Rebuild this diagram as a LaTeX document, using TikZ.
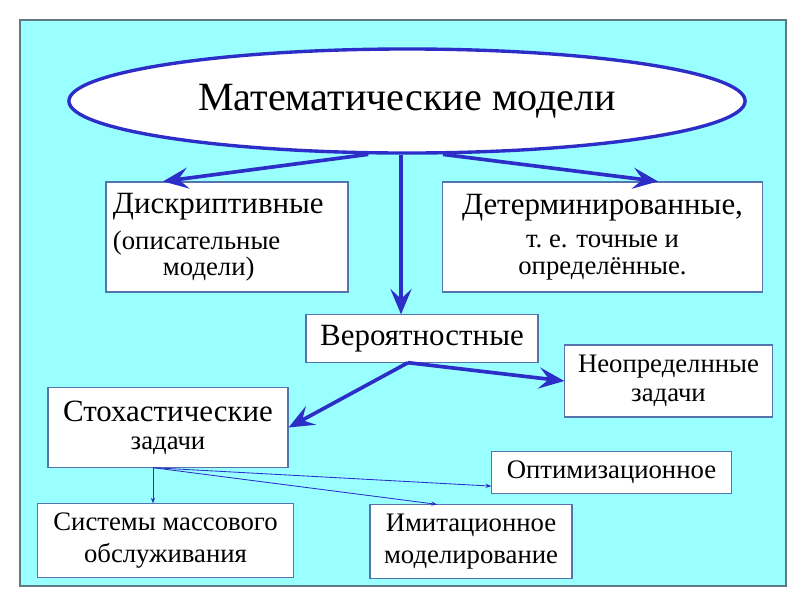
\documentclass[tikz,border=0pt]{standalone}
\usepackage{fontspec}
\setmainfont{Liberation Serif}
\usetikzlibrary{arrows.meta,shapes.geometric}
\definecolor{bgcyan}{RGB}{153,255,255}
\definecolor{framegray}{RGB}{95,120,130}
\definecolor{boxedge}{RGB}{85,115,175}
\definecolor{arrowblue}{RGB}{45,45,200}

\tikzset{
  box/.style={draw=boxedge,fill=white,line width=0.8pt,inner sep=0pt,align=center},
  bigarrow/.style={arrowblue,line width=2.6pt,-{Stealth[length=18pt,width=15pt,inset=7pt]}},
  thinarrow/.style={arrowblue,line width=0.6pt,-{Stealth[length=4pt,width=3pt]}}
}

\begin{document}
\begin{tikzpicture}[x=0.025cm,y=-0.025cm]
  \useasboundingbox (0,0) rectangle (800,600);
  \filldraw[fill=bgcyan,draw=framegray,line width=0.8pt] (20,20) rectangle (786,586);

  % top ellipse
  \node[ellipse,draw=arrowblue,line width=2.4pt,fill=white,minimum width=16.9cm,
    minimum height=2.6cm,font=\fontsize{28.5}{31}\selectfont] (mm) at (407,101)
    {Математические модели};

  % boxes
  \node[box,inner xsep=0.175cm,text width=5.7cm,minimum height=2.75cm,align=left,
    font=\fontsize{19}{18.5}\selectfont] (dis) at (227,237)
    {{\fontsize{22}{24}\selectfont Дискриптивные}\\[7pt](описательные\\
     \hspace*{1.25cm}модели)};
  \node[box,minimum width=7.98cm,minimum height=2.75cm,
    font=\fontsize{19}{19}\selectfont] (det) at (602.5,237)
    {{\fontsize{22}{24}\selectfont Детерминированные,}\\[5pt]т.~е. точные и\\
     определённые.};
  \node[box,minimum width=5.8cm,minimum height=1.18cm,
    font=\fontsize{22}{24}\selectfont] (ver) at (422,338.5) {Вероятностные};
  \node[box,minimum width=5.18cm,minimum height=1.8cm,
    font=\fontsize{19}{21}\selectfont] (neo) at (668.5,381)
    {Неопределнные\\задачи};
  \node[box,minimum width=6cm,minimum height=1.98cm,
    font=\fontsize{19}{20}\selectfont] (sto) at (168,427.5)
    {{\fontsize{22}{24}\selectfont Стохастические}\\задачи};
  \node[box,minimum width=5.98cm,minimum height=1.03cm,
    font=\fontsize{19}{21}\selectfont] (opt) at (611.5,472.5) {Оптимизационное};
  \node[box,minimum width=6.38cm,minimum height=1.83cm,
    font=\fontsize{19}{22.5}\selectfont] (sys) at (165.5,540.5)
    {Системы массового\\обслуживания};
  \node[box,minimum width=5.05cm,minimum height=1.83cm,
    font=\fontsize{19}{22.5}\selectfont] (imi) at (471,541.5)
    {Имитационное\\моделирование};

  % thick arrows
  \coordinate (mmfoot) at ([xshift=-0.15cm]mm.south);
  \draw[bigarrow] (mm.234) -- ([xshift=-1.6cm]dis.north);
  \draw[bigarrow] (mm.304) -- ([xshift=1.39cm]det.north);
  \draw[bigarrow] (mmfoot) -- (mmfoot |- ver.north);
  \coordinate (verfoot) at ([xshift=-0.35cm]ver.south);
  \draw[bigarrow] (verfoot) -- (sto.east);
  \draw[bigarrow] (verfoot) -- (neo.west);

  % thin arrows
  \coordinate (stofoot) at ([xshift=-0.375cm]sto.south);
  \draw[thinarrow] (stofoot) -- (stofoot |- sys.north);
  \draw[thinarrow] (stofoot) -- ([yshift=-0.34cm]opt.west);
  \draw[thinarrow] (stofoot) -- ([xshift=-0.85cm]imi.north);
\end{tikzpicture}
\end{document}
